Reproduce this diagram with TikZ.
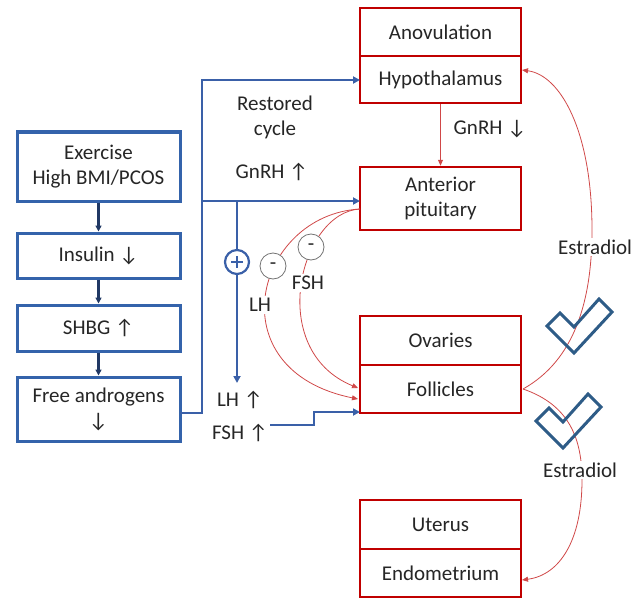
\documentclass[tikz,border=0pt]{standalone}
\usepackage{fontspec}
\setmainfont{Carlito}
\newfontfamily\arrfont{Carlito}
\usetikzlibrary{arrows.meta}
\definecolor{bbox}{HTML}{3463AB}
\definecolor{navy}{HTML}{203864}
\definecolor{bline}{HTML}{3A60A8}
\definecolor{rbox}{HTML}{C00000}
\definecolor{rline}{HTML}{D04848}
\definecolor{chk}{HTML}{2E5C87}
\newcommand{\uarr}{{\arrfont\char"2191}}
\newcommand{\darr}{{\arrfont\char"2193}}
\begin{document}
\begin{tikzpicture}[x=1pt,y=-1pt,
  every node/.style={font=\fontsize{21}{25}\selectfont, text=black!85, align=center, inner sep=0pt},
  redbox/.style={draw=rbox, line width=2.5pt, minimum width=161pt, fill=white},
  bluebox/.style={draw=bbox, line width=3pt, minimum width=163pt, fill=white},
  navyarr/.style={draw=navy, line width=2.2pt, -{Triangle[length=6pt,width=6pt]}},
  bluearr/.style={draw=bline, line width=2.2pt, -{Triangle[length=7pt,width=7pt]}},
  redarr/.style={draw=rline, line width=0.8pt, -{Triangle[length=6pt,width=5pt]}},
  lbl/.style={fill=white, inner sep=2pt},
  minus/.style={circle, draw=black!55, line width=0.8pt, fill=white, minimum size=26pt},
  plus/.style={circle, draw=bline, line width=2.2pt, fill=white, minimum size=24pt},
  chkmark/.style={draw=chk, line width=3pt, line join=miter}
]
\useasboundingbox (0,0) rectangle (642,599);

% red boxes
\node[redbox, minimum height=48pt] (anov) at (440.5,32) {Anovulation};
\node[redbox, minimum height=47pt] (hypo) at (440.5,79.5) {Hypothalamus};
\node[redbox, minimum height=63pt] (ant) at (440.5,198.5) {Anterior\\pituitary};
\node[redbox, minimum height=49pt] (ova) at (440.5,340.5) {Ovaries};
\node[redbox, minimum height=48pt] (fol) at (440.5,389) {Follicles};
\node[redbox, minimum height=49pt] (ute) at (440.5,524.5) {Uterus};
\node[redbox, minimum height=48pt] (endo) at (440.5,573) {Endometrium};

% blue boxes
\node[bluebox, minimum height=69pt] (exe) at (98.5,166.5) {Exercise\\High BMI/PCOS};
\node[bluebox, minimum height=45pt] (ins) at (98.5,255.5) {Insulin \darr};
\node[bluebox, minimum height=46pt] (shbg) at (98.5,328) {SHBG \uarr};
\node[bluebox, minimum height=64pt] (free) at (98.5,409) {Free androgens\\\darr};

\draw[navyarr] (exe) -- (ins);
\draw[navyarr] (ins) -- (shbg);
\draw[navyarr] (shbg) -- (free);

% blue connectors
\coordinate (j0) at (180,413);
\coordinate (j1) at (202,413);
\coordinate (j2) at (202,80);
\coordinate (j3) at (202,201);
\coordinate (j4) at (237,201);
\coordinate (j5) at (237,383);
\coordinate (hw) at (360,80);
\coordinate (aw) at (360,201);
\draw[bluearr] (j0) -- (j1) -- (j2) -- (hw);
\draw[bluearr] (j3) -- (aw);
\draw[bluearr] (j4) -- (j5);
\node[plus] (pl) at (237,262) {};
\draw[bline, line width=1.6pt] (pl.center) ++(-6,0) -- ++(12,0) (pl.center) ++(0,-6) -- ++(0,12);

\node (rest) at (275,117) {Restored\\cycle};
\node (gup) at (272,172) {GnRH \uarr};
\node (lhup) at (240,400) {LH \uarr};
\node (fshup) at (240,433) {FSH \uarr};
\coordinate (f0) at (270,425);
\coordinate (f1) at (314,425);
\coordinate (f2) at (314,412);
\coordinate (fw) at (360,412);
\draw[bluearr] (f0) -- (f1) -- (f2) -- (fw);

% red connectors
\draw[redarr] (hypo) -- (ant);
\node (gdown) at (490,129) {GnRH \darr};

\coordinate (as) at (360,209);
\coordinate (lhend) at (358,399);
\coordinate (fshend) at (358,388);
\draw[redarr] (as) .. controls (255,215) and (215,370) .. (lhend);
\draw[redarr] (as) .. controls (300,212) and (265,350) .. (fshend);
\node[minus] (m1) at (273,266) {-};
\node[minus] (m2) at (311,247) {-};
\node[lbl] (lh) at (260,305) {LH};
\node[lbl] (fsh) at (308,283) {FSH};

\coordinate (fe) at (523,389);
\coordinate (he) at (522,70);
\coordinate (ee) at (522,580);
\draw[redarr] (fe) .. controls (575,360) and (592,300) .. (592,230) .. controls (592,130) and (560,75) .. (he);
\draw[redarr] (fe) .. controls (570,405) and (582,440) .. (582,480) .. controls (582,540) and (560,575) .. (ee);
\node[lbl] (est1) at (595,247) {Estradiol};
\node[lbl] (est2) at (580,470) {Estradiol};

% check marks
\draw[chkmark] (574,353) -- (547,326) -- (560,313) -- (574,327) -- (599,299) -- (612,312) -- cycle;
\draw[chkmark] (563,448) -- (536,421) -- (549,408) -- (563,422) -- (588,394) -- (601,407) -- cycle;
\end{tikzpicture}
\end{document}
